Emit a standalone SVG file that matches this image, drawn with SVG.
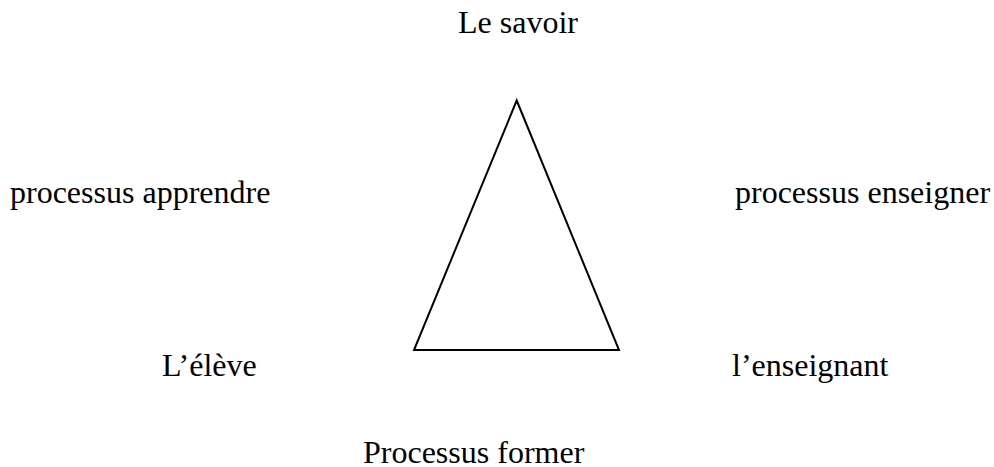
<svg xmlns="http://www.w3.org/2000/svg" width="994" height="467" viewBox="0 0 994 467">
<style>
text{font-family:"Liberation Serif","Times New Roman",serif;font-size:32px;fill:#000}
.tri{fill:none;stroke:#000;stroke-width:2;stroke-linejoin:miter}
</style>
<rect width="994" height="467" fill="#fff"/>
<g id="connectors">
<polygon class="tri" points="516.7,100.5 414,350 619,350"/>
</g>
<g id="savoir"><text x="458" y="33">Le savoir</text></g>
<g id="apprendre"><text x="10" y="203">processus apprendre</text></g>
<g id="enseigner"><text x="735" y="203">processus enseigner</text></g>
<g id="eleve"><text x="162" y="376">L’élève</text></g>
<g id="enseignant"><text x="732" y="376">l’enseignant</text></g>
<g id="former"><text x="363" y="463">Processus former</text></g>
</svg>
